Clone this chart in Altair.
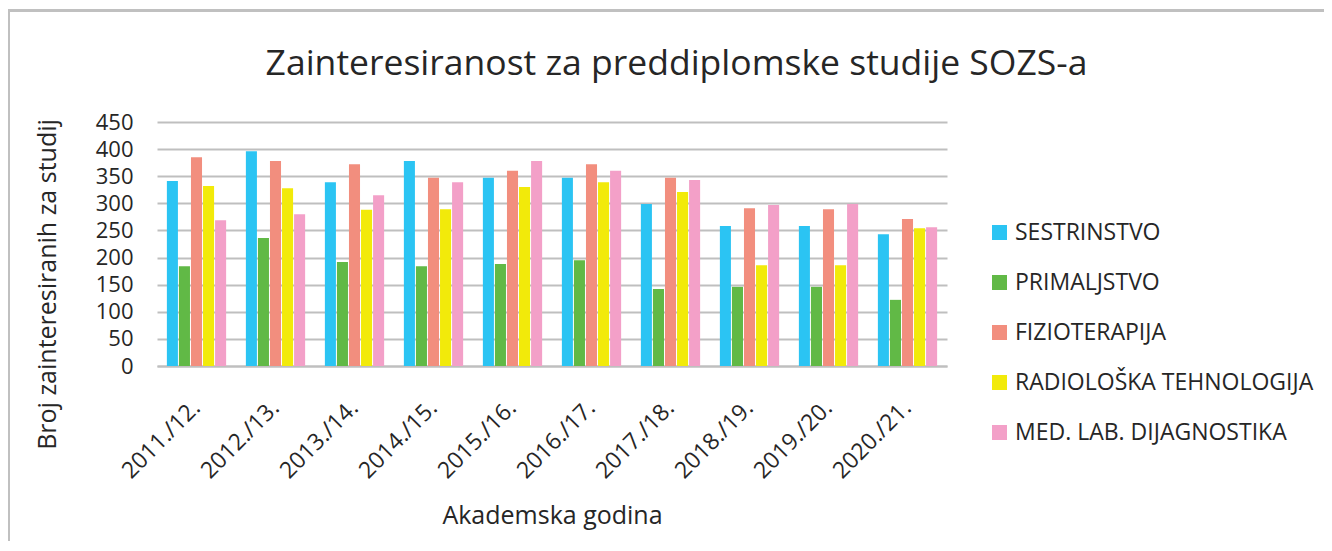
import altair as alt
import pandas as pd

years = ["2011./12.", "2012./13.", "2013./14.", "2014./15.", "2015./16.",
         "2016./17.", "2017./18.", "2018./19.", "2019./20.", "2020./21."]
series = ["SESTRINSTVO", "PRIMALJSTVO", "FIZIOTERAPIJA",
          "RADIOLOŠKA TEHNOLOGIJA", "MED. LAB. DIJAGNOSTIKA"]
colors = ["#2BC4F3", "#61B946", "#F28E7E", "#F2EA0A", "#F3A0C8"]
title_text = "Zainteresiranost za preddiplomske studije SOZS-a"

sestrinstvo = [341, 396, 339, 378, 347, 347, 299, 258, 258, 243]
primaljstvo = [184, 236, 192, 184, 188, 195, 142, 146, 146, 122]
fizioterapija = [385, 378, 372, 347, 360, 372, 347, 291, 289, 271]
radioloska = [332, 328, 288, 289, 330, 339, 321, 186, 186, 254]
medlab = [269, 280, 315, 339, 378, 360, 343, 297, 299, 256]

values = [sestrinstvo, primaljstvo, fizioterapija, radioloska, medlab]
rows = []
for s, vals in zip(series, values):
    for y, v in zip(years, vals):
        rows.append({"godina": y, "studij": s, "broj": v})
df = pd.DataFrame(rows)

FONT = "Open Sans"
TXT = "#262626"

bars = alt.Chart(df).mark_bar().encode(
    x=alt.X("godina:N", sort=years,
            scale=alt.Scale(paddingInner=0.25, paddingOuter=0.125),
            axis=alt.Axis(title="Akademska godina", labelAngle=-45,
                          labelAlign="right", labelBaseline="middle",
                          labelPadding=38, ticks=False, labelFontSize=23,
                          domainColor="#bfbfbf", domainWidth=2,
                          titleY=157, titleBaseline="alphabetic",
                          titleFontSize=25, titleFontWeight="normal")),
    xOffset=alt.XOffset("studij:N", sort=series,
                        scale=alt.Scale(paddingInner=0.083, paddingOuter=0)),
    y=alt.Y("broj:Q", scale=alt.Scale(domain=[0, 450], nice=False),
            axis=alt.Axis(title="Broj zainteresiranih za studij",
                          values=list(range(0, 451, 50)), ticks=False,
                          domain=False, labelPadding=24,
                          gridColor="#bfbfbf", gridWidth=2,
                          titleX=-110, titleY=162, titleAngle=-90,
                          titleBaseline="middle", titleAlign="center",
                          titleFontSize=25, titleFontWeight="normal")),
    color=alt.Color("studij:N", sort=series,
                    scale=alt.Scale(domain=series, range=colors),
                    legend=alt.Legend(title=None, orient="none",
                                      legendX=831, legendY=99,
                                      symbolType="square", symbolSize=225,
                                      symbolStrokeWidth=0,
                                      labelFontSize=23, labelOffset=4,
                                      rowPadding=26, labelLimit=400)),
)

border = alt.Chart(alt.Data(values=[{}])).mark_rect(
    fillOpacity=0, stroke="#c0c0c0", strokeWidth=3
).encode(x=alt.value(-148.5), x2=alt.value(3000),
         y=alt.value(-111.5), y2=alt.value(3000))

title = alt.Chart(alt.Data(values=[{"t": title_text}])).mark_text(
    font=FONT, fontSize=35.5, color=TXT, align="center", baseline="alphabetic"
).encode(text="t:N", x=alt.value(519.5), y=alt.value(-47))

chart = alt.layer(border, bars, title).properties(
    width=790, height=244,
    autosize=alt.AutoSizeParams(type="none"),
    padding={"left": 149, "top": 114, "right": 377, "bottom": 175},
).configure(font=FONT).configure_view(stroke=None).configure_axis(
    labelFont=FONT, titleFont=FONT, labelColor=TXT, titleColor=TXT,
    labelFontSize=22
).configure_legend(labelFont=FONT, labelColor=TXT)

chart.save("out.html", embed_options={"renderer": "svg", "actions": False})
